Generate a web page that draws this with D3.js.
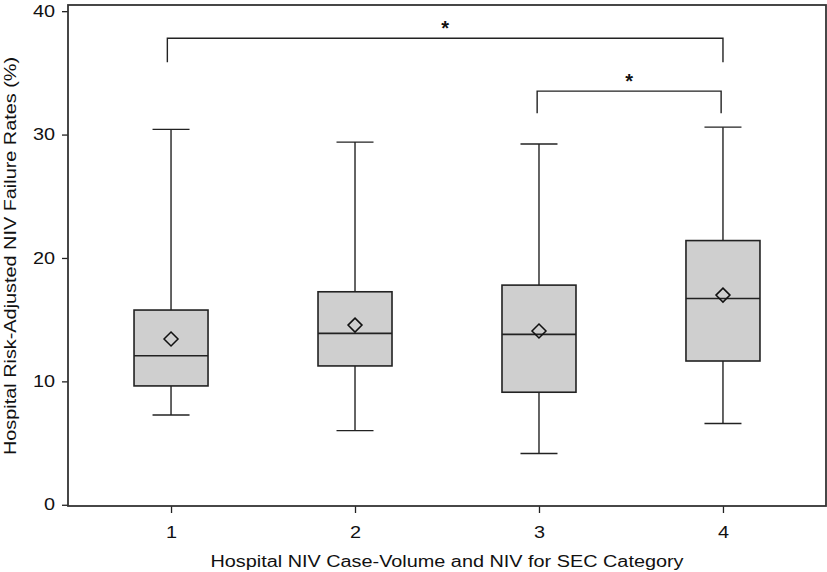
<!DOCTYPE html>
<html>
<head>
<meta charset="utf-8">
<script src="https://cdn.jsdelivr.net/npm/d3@7"></script>
<style>
  html, body { margin: 0; padding: 0; background: #fff; }
  svg { display: block; font-family: "Liberation Sans", Arial, Helvetica, sans-serif; }
</style>
</head>
<body>
<svg id="chart" width="827" height="572"></svg>
<script>
// ---- data ----
const categories = [1, 2, 3, 4];
const lowerWhisker = [7.28, 6.01, 4.15, 6.58];
const q1 = [9.63, 11.25, 9.12, 11.65];
const median = [12.08, 13.89, 13.81, 16.72];
const q3 = [15.78, 17.26, 17.8, 21.41];
const upperWhisker = [30.42, 29.39, 29.23, 30.6];
const mean = [13.43, 14.56, 14.08, 16.99];
const yTicks = [0, 10, 20, 30, 40];
const xTickLabels = ["1", "2", "3", "4"];
const bracketFrom = [0.98, 2.99];
const bracketTo = [4, 3.99];
const bracketTop = [37.81, 33.52];
const bracketDrop = [35.87, 31.72];
const bracketLabel = ["*", "*"];
const xTitle = "Hospital NIV Case-Volume and NIV for SEC Category";
const yTitle = "Hospital Risk-Adjusted NIV Failure Rates (%)";

// ---- layout ----
const L = 68, R = 826, T = 5, B = 506;
const svg = d3.select("#chart");
const x = d3.scaleLinear().domain([0.44, 4.56]).range([L, R]);
const y = d3.scaleLinear().domain([-0.1, 40.5]).range([B, T]);
const boxHalf = 37, capHalf = 18.5, dHalf = 7;
const lineColor = "#222";
const widen = 1.24;

function stretch(sel, k) {
  sel.each(function () {
    const len = this.getComputedTextLength();
    d3.select(this).attr("textLength", len * k).attr("lengthAdjust", "spacingAndGlyphs");
  });
}

// axes
const yAxis = d3.axisLeft(y).tickValues(yTicks).tickSize(6).tickPadding(7).tickFormat(d3.format("d"));
const gy = svg.append("g").attr("transform", `translate(${L},0)`).call(yAxis);
const xAxis = d3.axisBottom(x).tickValues(categories).tickSize(7).tickPadding(14).tickFormat((d, i) => xTickLabels[i]);
const gx = svg.append("g").attr("transform", `translate(0,${B})`).call(xAxis);
[gx, gy].forEach(g => {
  g.select(".domain").remove();
  g.selectAll(".tick line").attr("stroke", lineColor).attr("stroke-width", 1.3);
  g.selectAll(".tick text").attr("fill", "#111").style("font-size", "16px").style("font-family", "'Liberation Sans', Arial, sans-serif");
  stretch(g.selectAll(".tick text"), widen);
});

// frame
svg.append("rect").attr("x", L).attr("y", T).attr("width", R - L).attr("height", B - T)
  .attr("fill", "none").attr("stroke", "#333").attr("stroke-width", 1.8);

// boxes
const data = categories.map((c, i) => ({
  c, lo: lowerWhisker[i], q1: q1[i], med: median[i], q3: q3[i], hi: upperWhisker[i], mean: mean[i]
}));
const g = svg.append("g");
const bx = g.selectAll("g.box").data(data).join("g").attr("class", "box");
bx.append("line").attr("x1", d => x(d.c)).attr("x2", d => x(d.c)).attr("y1", d => y(d.q3)).attr("y2", d => y(d.hi))
  .attr("stroke", lineColor).attr("stroke-width", 1.4);
bx.append("line").attr("x1", d => x(d.c)).attr("x2", d => x(d.c)).attr("y1", d => y(d.q1)).attr("y2", d => y(d.lo))
  .attr("stroke", lineColor).attr("stroke-width", 1.4);
bx.append("line").attr("x1", d => x(d.c) - capHalf).attr("x2", d => x(d.c) + capHalf).attr("y1", d => y(d.hi)).attr("y2", d => y(d.hi))
  .attr("stroke", lineColor).attr("stroke-width", 1.4);
bx.append("line").attr("x1", d => x(d.c) - capHalf).attr("x2", d => x(d.c) + capHalf).attr("y1", d => y(d.lo)).attr("y2", d => y(d.lo))
  .attr("stroke", lineColor).attr("stroke-width", 1.4);
bx.append("rect").attr("x", d => x(d.c) - boxHalf).attr("width", boxHalf * 2)
  .attr("y", d => y(d.q3)).attr("height", d => y(d.q1) - y(d.q3))
  .attr("fill", "#cfcfcf").attr("stroke", lineColor).attr("stroke-width", 1.6);
bx.append("line").attr("x1", d => x(d.c) - boxHalf).attr("x2", d => x(d.c) + boxHalf).attr("y1", d => y(d.med)).attr("y2", d => y(d.med))
  .attr("stroke", lineColor).attr("stroke-width", 1.6);
bx.append("path").attr("d", d => {
  const cx = x(d.c), cy = y(d.mean);
  return `M${cx},${cy - dHalf}L${cx + dHalf},${cy}L${cx},${cy + dHalf}L${cx - dHalf},${cy}Z`;
}).attr("fill", "none").attr("stroke", "#111").attr("stroke-width", 1.5);

// significance brackets
bracketFrom.forEach((f, i) => {
  const x1 = x(f), x2 = x(bracketTo[i]), yt = y(bracketTop[i]), yd = y(bracketDrop[i]);
  svg.append("path").attr("d", `M${x1},${yd}L${x1},${yt}L${x2},${yt}L${x2},${yd}`)
    .attr("fill", "none").attr("stroke", lineColor).attr("stroke-width", 1.4);
  svg.append("text").attr("x", (x1 + x2) / 2).attr("y", yt - 3)
    .attr("text-anchor", "middle").style("font-size", "20px").style("font-weight", "bold")
    .attr("fill", "#111").text(bracketLabel[i]);
});

// titles
const xt = svg.append("text").attr("x", (L + R) / 2).attr("y", 567).attr("text-anchor", "middle")
  .style("font-size", "16px").attr("fill", "#111").text(xTitle);
stretch(xt, widen);
const yt = svg.append("text").attr("transform", `translate(16,256) rotate(-90)`).attr("text-anchor", "middle")
  .style("font-size", "16px").attr("fill", "#111").text(yTitle);
stretch(yt, widen);
</script>
</body>
</html>
